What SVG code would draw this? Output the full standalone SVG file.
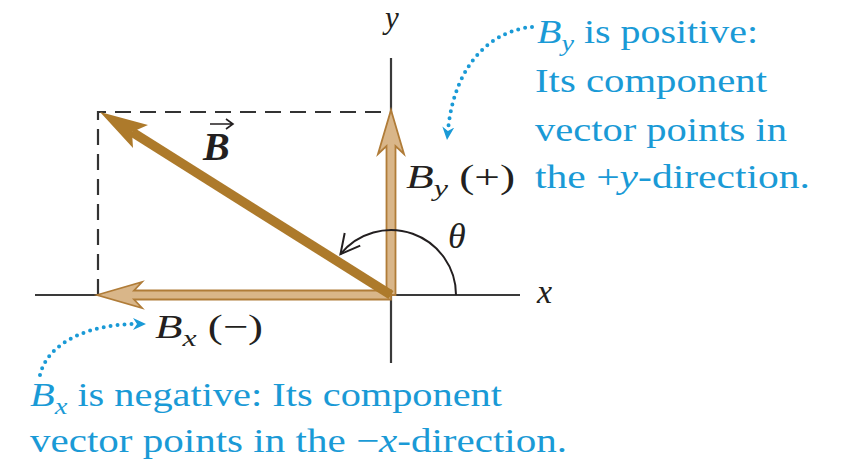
<svg xmlns="http://www.w3.org/2000/svg" width="841" height="468" viewBox="0 0 841 468">
<style>
text{font-family:"Liberation Serif","Times New Roman",serif;font-size:34px;fill:#231f20}
.i{font-style:italic}
.b{font-weight:bold}
.sub{font-style:italic;font-size:24px}
.blue{fill:#1a9ad6}
.axis{stroke:#3a3a3a;stroke-width:2.2;fill:none}
.dash{stroke:#333;stroke-width:2.2;fill:none;stroke-dasharray:16 9}
.comp{fill:#d9b689;stroke:#b07c38;stroke-width:1.8;stroke-linejoin:miter}
.dots{stroke:#1a9ad6;stroke-width:4;fill:none;stroke-linecap:round;stroke-dasharray:0 7}
</style>
<defs>
<marker id="blueHead" markerUnits="userSpaceOnUse" viewBox="0 0 14 14" markerWidth="14" markerHeight="14" refX="3" refY="7" orient="auto">
<path d="M0,1 L13,7 L0,13 L4,7 z" fill="#1a9ad6"/>
</marker>
<marker id="openHead" markerUnits="userSpaceOnUse" viewBox="-22 -12 24 24" markerWidth="24" markerHeight="24" refX="0" refY="0" orient="auto">
<path d="M-19,-10 L0,0 L-19,10" fill="none" stroke="#231f20" stroke-width="2"/>
</marker>
</defs>

<g id="axes">
<line class="axis" x1="35" y1="295" x2="520" y2="295"/>
<line class="axis" x1="391" y1="58" x2="391" y2="363"/>
<text class="i" x="385" y="28" style="font-size:31px">y</text>
<text class="i" x="537" y="303">x</text>
</g>

<g id="guide">
<path class="dash" d="M98,295 L98,112 L391,112"/>
</g>

<g id="By-vector">
<polygon class="comp" points="391,110 404,154 395.5,146 395.5,295 386.5,295 386.5,146 378,154"/>
</g>

<g id="Bx-vector">
<polygon class="comp" points="97,295 142,282 134,290.5 391,290.5 391,299.5 134,299.5 142,308"/>
</g>

<g id="B-vector">
<line x1="391" y1="295" x2="132" y2="132" stroke="#ad7a2b" stroke-width="9.5"/>
<polygon points="100,112 148,125 132,132 133,148" fill="#ad7a2b"/>
<text class="i b" x="203" y="160" style="font-size:40px">B</text>
<path d="M210,124 H232 M226,119 L233,124 L226,129" fill="none" stroke="#231f20" stroke-width="1.6"/>
</g>

<g id="connectors">
<path d="M456,295 A65,65 0 0 0 340.5,254.1" fill="none" stroke="#231f20" stroke-width="2" marker-end="url(#openHead)"/>
<path class="dots" d="M532,27 C495,30 455,60 448,130" marker-end="url(#blueHead)"/>
<path class="dots" d="M40,375 C48,342 90,324 136,324" marker-end="url(#blueHead)"/>
</g>

<g id="theta">
<text class="i" x="448" y="248" style="font-size:36px">θ</text>
</g>

<g id="By-label">
<text x="406" y="188" textLength="109" lengthAdjust="spacingAndGlyphs"><tspan class="i">B</tspan><tspan class="sub" dy="8">y</tspan><tspan dy="-8"> (+)</tspan></text>
</g>

<g id="Bx-label">
<text x="155" y="338" textLength="108" lengthAdjust="spacingAndGlyphs"><tspan class="i">B</tspan><tspan class="sub" dy="8">x</tspan><tspan dy="-8"> (−)</tspan></text>
</g>

<g id="note-y">
<text class="blue" x="537" y="43" textLength="221" lengthAdjust="spacingAndGlyphs"><tspan class="i">B</tspan><tspan class="sub" dy="8">y</tspan><tspan dy="-8"> is positive:</tspan></text>
<text class="blue" x="535" y="92" textLength="232" lengthAdjust="spacingAndGlyphs">Its component</text>
<text class="blue" x="535" y="141" textLength="252" lengthAdjust="spacingAndGlyphs">vector points in</text>
<text class="blue" x="535" y="188" textLength="275" lengthAdjust="spacingAndGlyphs">the +<tspan class="i">y</tspan>-direction.</text>
</g>

<g id="note-x">
<text class="blue" x="30" y="406" textLength="472" lengthAdjust="spacingAndGlyphs"><tspan class="i">B</tspan><tspan class="sub" dy="8">x</tspan><tspan dy="-8"> is negative: Its component</tspan></text>
<text class="blue" x="30" y="452" textLength="537" lengthAdjust="spacingAndGlyphs">vector points in the −<tspan class="i">x</tspan>-direction.</text>
</g>
</svg>
